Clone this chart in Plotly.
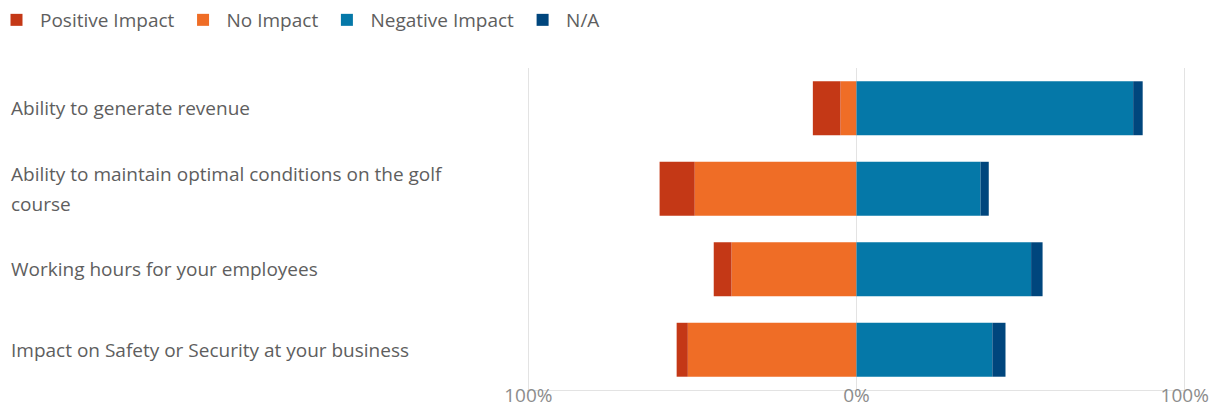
import plotly.graph_objects as go

categories = [
    "Ability to generate revenue",
    "Ability to maintain optimal conditions on the golf<br>course",
    "Working hours for your employees",
    "Impact on Safety or Security at your business",
]
positive = [8.4, 10.7, 5.4, 3.4]
no_impact = [4.9, 49.3, 38.1, 51.4]
negative = [84.3, 37.8, 53.2, 41.4]
na = [2.9, 2.5, 3.5, 4.0]

tick_vals = [-100, 0, 100]
tick_text = ["100%", "0%", "100%"]

colors = {
    "Positive Impact": "#C43816",
    "No Impact": "#EF6D26",
    "Negative Impact": "#0578A8",
    "N/A": "#00467D",
}

FONT = "Open Sans, Noto Sans, sans-serif"
FS = 19

fig = go.Figure()
# left side: No Impact closest to zero, Positive outermost
fig.add_trace(go.Bar(y=categories, x=[-v for v in no_impact], name="No Impact", orientation="h",
                     marker=dict(color=colors["No Impact"], line=dict(width=0)), legendrank=2,
                     customdata=no_impact, hovertemplate="%{customdata}%<extra>No Impact</extra>"))
fig.add_trace(go.Bar(y=categories, x=[-v for v in positive], name="Positive Impact", orientation="h",
                     marker=dict(color=colors["Positive Impact"], line=dict(width=0)), legendrank=1,
                     customdata=positive, hovertemplate="%{customdata}%<extra>Positive Impact</extra>"))
fig.add_trace(go.Bar(y=categories, x=negative, name="Negative Impact", orientation="h",
                     marker=dict(color=colors["Negative Impact"], line=dict(width=0)), legendrank=3))
fig.add_trace(go.Bar(y=categories, x=na, name="N/A", orientation="h",
                     marker=dict(color=colors["N/A"], line=dict(width=0)), legendrank=4))

# page body has an 8px margin, so the figure is drawn offset by (8, 8)
W, H = 1214, 401
L, R, T, B = 519, 36, 60, 19
pw = W - L - R
ph = H - T - B

# left-aligned category labels
annotations = []
for i, cat in enumerate(categories):
    lines = cat.split("<br>")
    n = len(lines)
    for j, line in enumerate(lines):
        annotations.append(dict(
            x=(1 - L) / pw, xref="paper", y=cat, yref="y",
            text=line, showarrow=False, xanchor="left", yanchor="middle",
            align="left", yshift=(n - 1) * 15 - j * 30,
            font=dict(family=FONT, size=FS, color="#5E5E5E"),
        ))

fig.update_layout(
    width=W, height=H,
    margin=dict(l=L, r=R, t=T, b=B, autoexpand=False),
    barmode="relative",
    bargap=0.33,
    plot_bgcolor="white",
    paper_bgcolor="white",
    font=dict(family=FONT, size=FS, color="#5E5E5E"),
    legend=dict(
        orientation="h", x=(-15 - L) / pw, xanchor="left",
        y=1 + (T - 12) / ph, yanchor="middle",
        traceorder="normal", itemwidth=37,
        font=dict(family=FONT, size=FS, color="#5E5E5E"),
    ),
    xaxis=dict(
        range=[-100.4, 100.4], tickvals=tick_vals, ticktext=tick_text,
        showgrid=True, gridcolor="#E3E3E3", gridwidth=1,
        zeroline=False, showline=True, linecolor="#E3E3E3",
        tickfont=dict(family=FONT, size=FS, color="#8C8C8C"),
        ticklabelstandoff=-12,
        fixedrange=True,
    ),
    yaxis=dict(
        categoryorder="array", categoryarray=categories,
        autorange="reversed", showticklabels=False, showgrid=False,
        zeroline=False, fixedrange=True,
    ),
    annotations=annotations,
    shapes=[dict(type="line", xref="x", yref="paper", x0=0, x1=0, y0=0, y1=1,
                 line=dict(color="#E3E3E3", width=1, dash="dash"), layer="below")],
)

fig.write_html("out.html")
